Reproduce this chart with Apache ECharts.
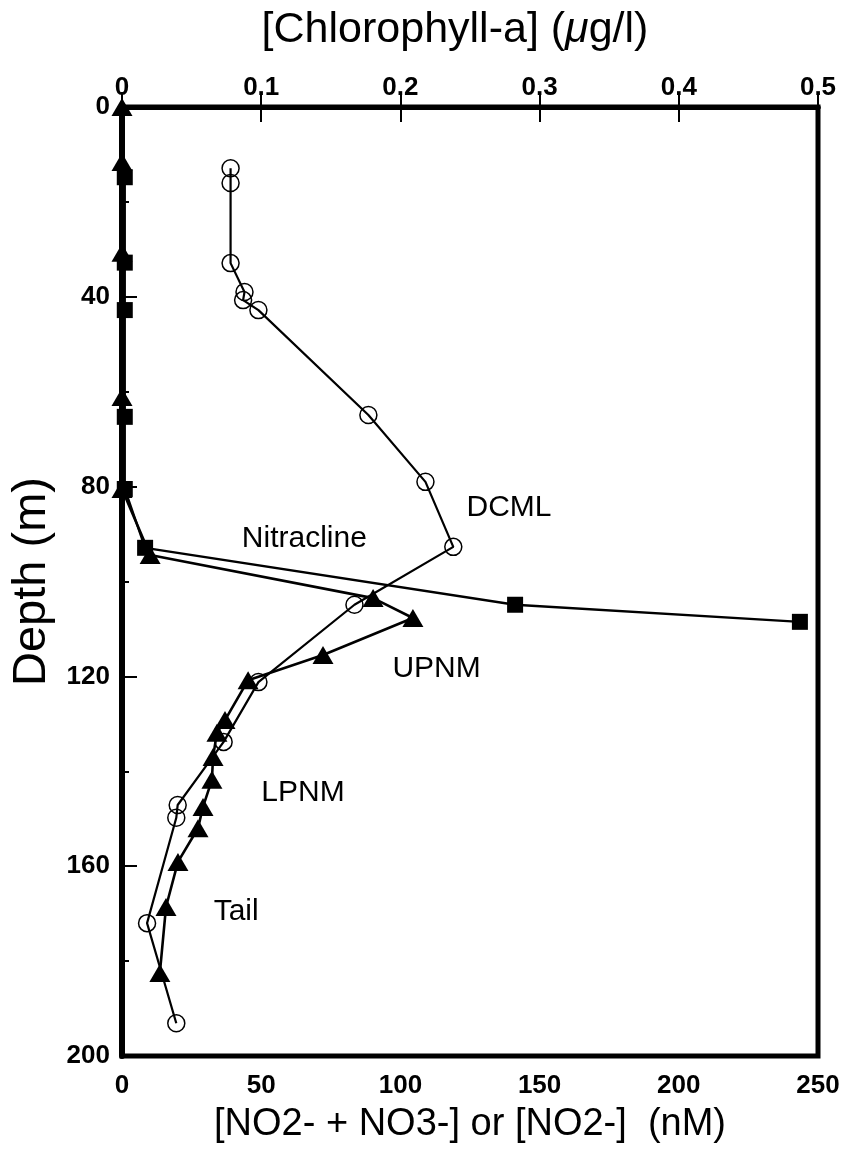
<!DOCTYPE html>
<html>
<head>
<meta charset="utf-8">
<title>Nitrite, nitrate and chlorophyll-a profiles</title>
<script src="https://cdn.jsdelivr.net/npm/echarts@6/dist/echarts.min.js"></script>
<style>
  html, body { margin: 0; padding: 0; background: #fff; }
  #chart { width: 844px; height: 1150px; }
</style>
</head>
<body>
<div id="chart"></div>
<script>
// Depth profiles: [value, depth (m)]
// NO2- + NO3- (nM), filled squares
const nitrateDepth = [14.8, 32.8, 42.8, 65.3, 80.5, 92.9, 104.9, 108.5];
const nitrateValue = [1.0, 1.0, 1.0, 1.0, 1.0, 8.3, 141.2, 243.5];

// NO2- (nM), filled triangles
const nitriteDepth = [0, 11.6, 30.7, 61.1, 80.5, 94.4, 103.5, 107.7, 115.5, 120.8,
                      129.2, 131.9, 137.0, 141.8, 147.5, 152.0, 159.1, 168.6, 182.5];
const nitriteValue = [0, 0, 0, 0, 0, 10.1, 90.2, 104.5, 72.2, 45.3,
                      37.0, 34.1, 32.7, 32.3, 29.1, 27.3, 20.1, 15.8, 13.6];

// Chlorophyll-a (ug/l), open circles
const chlDepth = [12.9, 16.0, 32.9, 39.0, 40.7, 42.8, 64.9, 79.0, 92.7, 104.9,
                  121.2, 133.8, 147.1, 149.8, 172.0, 193.1];
const chlValue = [0.078, 0.078, 0.078, 0.088, 0.087, 0.098, 0.177, 0.218, 0.238, 0.167,
                  0.098, 0.073, 0.040, 0.039, 0.018, 0.039];

// Axis ranges and tick steps
const nmTicks = [0, 50, 100, 150, 200, 250];
const chlTicks = [0, 0.1, 0.2, 0.3, 0.4, 0.5];
const depthTicks = [0, 40, 80, 120, 160, 200];

// Layer annotations and their anchors (bottom-axis nM, depth m)
const layerNames = ['DCML', 'Nitracline', 'UPNM', 'LPNM', 'Tail'];
const layerPos = [[139, 84.5], [65.5, 91.0], [113, 118.3], [65, 144.5], [41, 169.5]];

const pairs = (xs, ys) => xs.map((x, i) => [x, ys[i]]);

const FONT = '"Liberation Sans", Arial, Helvetica, sans-serif';
const tickLabel = { color: '#000', fontFamily: FONT, fontWeight: 'bold', fontSize: 26 };

const chart = echarts.init(document.getElementById('chart'), null, { renderer: 'canvas' });

chart.setOption({
  animation: false,
  backgroundColor: '#fff',
  grid: {
    left: 122, right: 26, top: 107, bottom: 94,
    outerBoundsMode: 'none',
    show: true, borderColor: '#000', borderWidth: 5, backgroundColor: 'transparent'
  },
  xAxis: [
    {
      type: 'value', position: 'bottom',
      min: nmTicks[0], max: nmTicks[nmTicks.length - 1], interval: 50,
      name: '[NO2- + NO3-] or [NO2-]  (nM)',
      nameLocation: 'middle', nameGap: 50,
      nameTextStyle: { color: '#000', fontFamily: FONT, fontSize: 38 },
      axisLine: { show: true, lineStyle: { color: '#000', width: 5 } },
      axisTick: { show: true, inside: true, length: 15, lineStyle: { color: '#000', width: 2 } },
      axisLabel: Object.assign({ margin: 17 }, tickLabel),
      splitLine: { show: false }
    },
    {
      type: 'value', position: 'top',
      min: chlTicks[0], max: chlTicks[chlTicks.length - 1], interval: 0.1,
      name: '{n|[Chlorophyll-a] (}{i|\u03bc}{n|g/l)}',
      nameLocation: 'middle', nameGap: 55,
      nameTextStyle: {
        padding: [0, 30, 0, 0],
        rich: {
          n: { color: '#000', fontFamily: FONT, fontSize: 43 },
          i: { color: '#000', fontFamily: FONT, fontSize: 43, fontStyle: 'italic' }
        }
      },
      axisLine: { show: true, lineStyle: { color: '#000', width: 5 } },
      axisTick: { show: true, inside: true, length: 15, lineStyle: { color: '#000', width: 2 } },
      axisLabel: Object.assign({ margin: 6, formatter: v => (v === 0 ? '0' : String(+v.toFixed(1))) }, tickLabel),
      splitLine: { show: false }
    }
  ],
  yAxis: [
    {
      type: 'value', inverse: true,
      min: depthTicks[0], max: depthTicks[depthTicks.length - 1], interval: 40,
      name: 'Depth (m)',
      nameLocation: 'middle', nameGap: 60, nameRotate: 90,
      nameTextStyle: { color: '#000', fontFamily: FONT, fontSize: 47 },
      axisLine: { show: true, lineStyle: { color: '#000', width: 6 } },
      axisTick: { show: true, inside: true, length: 15, lineStyle: { color: '#000', width: 2 } },
      minorTick: { show: true, splitNumber: 2, length: 7, lineStyle: { color: '#000', width: 2 } },
      axisLabel: Object.assign({ margin: 12 }, tickLabel),
      splitLine: { show: false },
      minorSplitLine: { show: false }
    }
  ],
  series: [
    {
      name: 'NO2- + NO3-', type: 'line', xAxisIndex: 0, yAxisIndex: 0,
      data: pairs(nitrateValue, nitrateDepth),
      symbol: 'rect', symbolSize: 16, clip: false,
      lineStyle: { color: '#000', width: 2.3 },
      itemStyle: { color: '#000' },
      z: 3
    },
    {
      name: 'NO2-', type: 'line', xAxisIndex: 0, yAxisIndex: 0,
      data: pairs(nitriteValue, nitriteDepth),
      symbol: 'triangle', symbolSize: [21, 18], clip: false,
      lineStyle: { color: '#000', width: 2.6 },
      itemStyle: { color: '#000' },
      z: 4
    },
    {
      name: 'Chlorophyll-a', type: 'line', xAxisIndex: 1, yAxisIndex: 0,
      data: pairs(chlValue, chlDepth),
      symbol: 'circle', symbolSize: 17, clip: false,
      lineStyle: { color: '#000', width: 2.2 },
      itemStyle: { color: 'rgba(0,0,0,0)', borderColor: '#000', borderWidth: 1.5 },
      z: 5
    },
    {
      // layer names placed at their depth on the plot
      name: 'layers', type: 'scatter', xAxisIndex: 0, yAxisIndex: 0,
      data: layerPos.map((p, i) => ({ value: p, name: layerNames[i] })),
      symbolSize: 1, silent: true,
      itemStyle: { opacity: 0 },
      label: {
        show: true, position: 'inside', formatter: '{b}', opacity: 1,
        color: '#000', fontFamily: FONT, fontSize: 30
      },
      z: 6
    }
  ]
});
</script>
</body>
</html>
